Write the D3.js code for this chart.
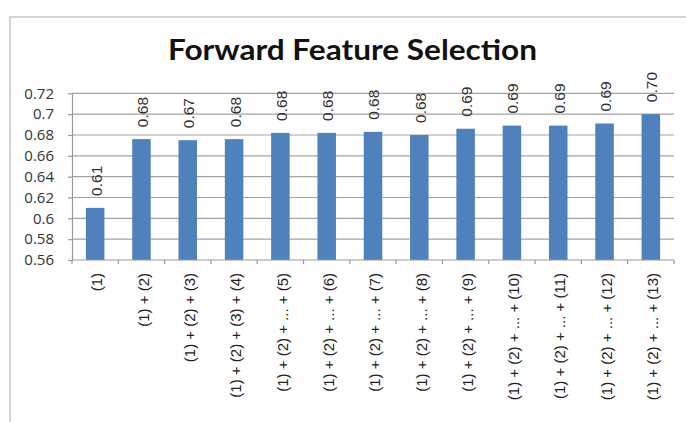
<!DOCTYPE html>
<html>
<head>
<meta charset="utf-8">
<script src="https://cdn.jsdelivr.net/npm/d3@7"></script>
<style>
  body { margin: 0; background: #fff; }
  svg { display: block; }
</style>
</head>
<body>
<div id="chart"></div>
<script>
// Chart data
var categories = ["(1)", "(1) + (2)", "(1) + (2) + (3)", "(1) + (2) + (3) + (4)",
  "(1) + (2) + ... + (5)", "(1) + (2) + ... + (6)", "(1) + (2) + ... + (7)",
  "(1) + (2) + ... + (8)", "(1) + (2) + ... + (9)", "(1) + (2) + ... + (10)",
  "(1) + (2) + ... + (11)", "(1) + (2) + ... + (12)", "(1) + (2) + ... + (13)"];
var values = [0.610, 0.676, 0.675, 0.676, 0.682, 0.682, 0.683, 0.680, 0.686, 0.689, 0.689, 0.691, 0.700];
var valueLabels = ["0.61", "0.68", "0.67", "0.68", "0.68", "0.68", "0.68", "0.68", "0.69", "0.69", "0.69", "0.69", "0.70"];
var yTicks = [0.56, 0.58, 0.6, 0.62, 0.64, 0.66, 0.68, 0.7, 0.72];
var yTickLabels = ["0.56", "0.58", "0.6", "0.62", "0.64", "0.66", "0.68", "0.7", "0.72"];

var svgWidth = 686, svgHeight = 422;
var plot = {left: 72, right: 674, top: 93.3, bottom: 260};

var svg = d3.select("#chart").append("svg")
  .attr("width", svgWidth)
  .attr("height", svgHeight);

// chart frame
svg.append("rect")
  .attr("x", 10).attr("y", 17)
  .attr("width", 700).attr("height", 420)
  .attr("fill", "#fff")
  .attr("stroke", "#d4d4d4")
  .attr("stroke-width", 2);

// Scales
var x = d3.scaleBand()
  .domain(categories)
  .range([plot.left, plot.right])
  .paddingInner(0.6)
  .paddingOuter(0.3);

var y = d3.scaleLinear()
  .domain([0.56, 0.72])
  .range([plot.bottom, plot.top]);

// Title
svg.append("text")
  .attr("x", 352.5)
  .attr("y", 60)
  .attr("text-anchor", "middle")
  .attr("font-family", "Lato, 'Open Sans', sans-serif")
  .attr("font-weight", "bold")
  .attr("font-size", 29)
  .attr("textLength", 369)
  .attr("lengthAdjust", "spacingAndGlyphs")
  .attr("fill", "#111")
  .text("Forward Feature Selection");

// Gridlines
svg.append("g")
  .selectAll("line")
  .data(yTicks.slice(1))
  .enter()
  .append("line")
  .attr("x1", plot.left)
  .attr("x2", plot.right)
  .attr("y1", d => y(d))
  .attr("y2", d => y(d))
  .attr("stroke", "#a3a3a3")
  .attr("stroke-width", 1.2);

// Y axis
var yAxis = d3.axisLeft(y)
  .tickValues(yTicks)
  .tickFormat((d, i) => yTickLabels[i])
  .tickSize(4)
  .tickSizeOuter(0)
  .tickPadding(14);

var yG = svg.append("g")
  .attr("transform", `translate(${plot.left}, 0)`)
  .call(yAxis);
yG.selectAll("path, line").attr("stroke", "#999").attr("stroke-width", 1.2);
yG.selectAll("text")
  .attr("font-family", "'Open Sans', sans-serif")
  .attr("font-size", 15)
  .attr("fill", "#333");

// Bars
svg.append("g")
  .selectAll("rect")
  .data(values)
  .enter()
  .append("rect")
  .attr("x", (d, i) => x(categories[i]))
  .attr("y", d => y(d))
  .attr("width", x.bandwidth())
  .attr("height", d => y(0.56) - y(d))
  .attr("fill", "#4f81bd");

// X axis line and ticks at band boundaries
var step = x.step();
var bounds = d3.range(categories.length + 1).map(i => x(categories[0]) - (step - x.bandwidth()) / 2 + i * step);
svg.append("line")
  .attr("x1", plot.left).attr("x2", plot.right)
  .attr("y1", plot.bottom).attr("y2", plot.bottom)
  .attr("stroke", "#999").attr("stroke-width", 1.2);
svg.append("g")
  .selectAll("line")
  .data(bounds)
  .enter()
  .append("line")
  .attr("x1", d => d).attr("x2", d => d)
  .attr("y1", plot.bottom).attr("y2", plot.bottom + 4)
  .attr("stroke", "#999").attr("stroke-width", 1.2);

// Category labels (rotated)
svg.append("g")
  .selectAll("text")
  .data(categories)
  .enter()
  .append("text")
  .attr("transform", d => `translate(${x(d) + x.bandwidth() / 2 + 2}, ${plot.bottom + 13}) rotate(-90)`)
  .attr("text-anchor", "end")
  .attr("dy", "0.35em")
  .attr("font-family", "'Liberation Sans', Arial, sans-serif")
  .attr("font-size", 15)
  .attr("fill", "#222")
  .text(d => d);

// Value labels (rotated)
svg.append("g")
  .selectAll("text")
  .data(values)
  .enter()
  .append("text")
  .attr("transform", (d, i) => `translate(${x(categories[i]) + x.bandwidth() / 2 + 1}, ${y(d) - 12}) rotate(-90)`)
  .attr("text-anchor", "start")
  .attr("dy", "0.35em")
  .attr("font-family", "'Liberation Sans', Arial, sans-serif")
  .attr("font-size", 15.5)
  .attr("fill", "#333")
  .text((d, i) => valueLabels[i]);
</script>
</body>
</html>
